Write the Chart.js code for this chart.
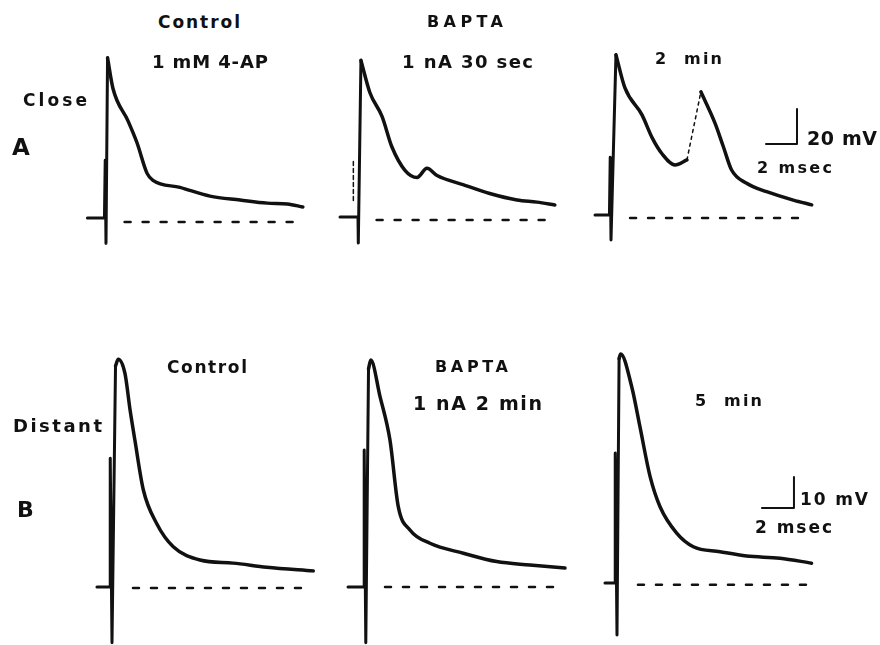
<!DOCTYPE html>
<html>
<head>
<meta charset="utf-8">
<script src="https://cdn.jsdelivr.net/npm/chart.js@4.4.1/dist/chart.umd.min.js"></script>
<style>
  html, body { margin: 0; padding: 0; background: #fff; overflow: hidden; }
  #figure { position: relative; width: 880px; height: 645px; }
  #figure canvas { position: absolute; }
  .lbl { position: absolute; font-family: "DejaVu Sans", sans-serif; font-weight: bold;
         color: #111; white-space: pre; line-height: 1; }
</style>
</head>
<body>
<div id="figure"></div>
<script>
// ---- A: close, control (1 mM 4-AP) ----  time in ms, voltage in mV from rest
const stimA1T = [-1.2, -0.1, -0.05, 0, 0.1];
const stimA1V = [0, 0, 33, -14.5, 91.5];
const decayA1T = [0.1, 0.45, 1.42, 2.0, 2.65, 3.03, 4.77, 6.71, 8.65, 10.4, 11.7, 12.7];
const decayA1V = [91.5, 74, 55.5, 43, 25.5, 21.5, 17.5, 12.5, 10.3, 8.5, 8, 6.3];
const restA1T = [1.2, 12.2];
const restA1V = [-2.3, -2.3];

// ---- A: BAPTA 1 nA 30 sec ----
const stimA2T = [-1.16, 0, 0.02, 0.19];
const stimA2V = [0, 0, -14.8, 89.5];
const ghostA2T = [-0.3, -0.3];
const ghostA2V = [9.5, 33];
const decayA2T = [0.19, 0.77, 1.55, 2.19, 3.03, 3.81, 4.45, 5.1, 6.77, 8.5, 10.26, 11.55, 12.7];
const decayA2V = [89.5, 71, 57.5, 40, 26.7, 22.6, 27.8, 23.7, 18.5, 13.4, 9.7, 8.5, 6.9];
const restA2T = [1.2, 12.4];
const restA2V = [-1.7, -1.7];

// ---- A: 2 min ----
const stimA3T = [-1.03, -0.1, -0.05, 0, 0.32];
const stimA3V = [0, 0, 33, -14.3, 91.5];
const decayA3T = [0.32, 0.9, 2.0, 2.65, 3.29, 4.13, 4.9];
const decayA3V = [91.5, 72.6, 57.2, 44.2, 35, 28.6, 31.5];
const riseA3T = [4.9, 5.8];
const riseA3V = [31.5, 70.4];
const spikeA3T = [5.8, 6.71, 7.25, 7.78, 8.75, 10.04, 11.76, 12.95];
const spikeA3V = [70.4, 52.5, 39, 25.7, 18.1, 13.3, 8.5, 5.8];
const restA3T = [1.23, 12.06];
const restA3V = [-1.7, -1.7];
const barAT = [10, 12, 12];      // 2 msec
const barAV = [40.6, 40.6, 60.6]; // 20 mV

// ---- B: distant, control ----
const stimB1T = [-0.94, -0.11, -0.11, 0, 0.22];
const stimB1V = [0, 0, 41.5, -18, 71.3];
const decayB1T = [0.22, 0.39, 0.81, 1.13, 1.43, 1.96, 2.79, 3.83, 5.5, 7.56, 9.67, 12.58];
const decayB1V = [71.3, 73.5, 68.9, 57.1, 47.4, 31.3, 20.5, 13, 8.7, 7.7, 6.4, 5.2];
const restB1T = [1.31, 11.88];
const restB1V = [-0.3, -0.3];

// ---- B: BAPTA 1 nA 2 min ----
const stimB2T = [-1.06, -0.05, -0.05, 0.05, 0.22];
const stimB2V = [0, 0, 44.2, -18, 70.3];
const decayB2T = [0.22, 0.36, 0.94, 1.56, 2.08, 2.81, 4.06, 6.15, 8.23, 10.31, 12.5];
const decayB2V = [70.3, 73.2, 61.4, 47.4, 25.9, 18.4, 14.1, 10.9, 8.2, 7.1, 6.1];
const restB2T = [1.25, 12.0];
const restB2V = [0, 0];

// ---- B: 5 min ----
const stimB3T = [-0.75, -0.11, -0.11, 0, 0.13];
const stimB3V = [0, 0, 41.9, -16.8, 72.4];
const decayB3T = [0.13, 0.23, 0.92, 1.43, 2.07, 2.69, 3.73, 4.77, 6.44, 8.1, 10.18, 12.16];
const decayB3V = [72.4, 73.9, 63.3, 50.5, 34.3, 24.6, 16.1, 11.7, 10.1, 8.7, 8.0, 6.4];
const restB3T = [1.31, 12.25];
const restB3V = [-0.6, -0.6];
const barBT = [9.06, 11.06, 11.06]; // 2 msec
const barBV = [24.2, 24.2, 34.2];   // 10 mV

// text: [text, left, baseline, font size, ink width]
const labels = [
    ['Control', 158, 28, 17, 82],
    ['1 mM 4-AP', 152, 68, 18, 116],
    ['Close', 23, 106, 17, 64],
    ['A', 12, 155, 23, 0],
    ['BAPTA', 427, 28, 16, 76],
    ['1 nA 30 sec', 402, 68, 18, 131],
    ['2  min', 655, 65, 16, 67],
    ['20 mV', 807, 145, 19, 70],
    ['2 msec', 757, 174, 16, 75],
    ['Control', 167, 373, 17, 80],
    ['Distant', 13, 432, 18, 89],
    ['B', 17, 518, 22, 0],
    ['BAPTA', 435, 373, 16, 73],
    ['1 nA 2 min', 413, 410, 19, 129],
    ['5  min', 695, 407, 16, 67],
    ['10 mV', 800, 505, 17, 68],
    ['2 msec', 755, 533, 17, 77]
];

const ink = '#111';
const rowA = { pxMs: 15.5, pxMv: 1.75, xMin: -2, xMax: 15, yMin: -20, yMax: 100 };
const rowB = { pxMs: 16, pxMv: 3.1, xMin: -2, xMax: 14, yMin: -20, yMax: 80 };
const fig = document.getElementById('figure');

function pts(t, v) {
    return t.map(function (x, i) { return { x: x, y: v[i] }; });
}

function line(t, v, width, smooth, dash) {
    return {
        data: pts(t, v),
        borderColor: ink,
        borderWidth: width,
        borderDash: dash || [],
        tension: 0,
        cubicInterpolationMode: smooth ? 'monotone' : 'default',
        borderCapStyle: 'round',
        borderJoinStyle: 'round',
        pointRadius: 0,
        clip: false
    };
}

function panel(stimX, baseY, row, datasets) {
    const canvas = document.createElement('canvas');
    const w = Math.round((row.xMax - row.xMin) * row.pxMs);
    const h = Math.round((row.yMax - row.yMin) * row.pxMv);
    canvas.width = w;
    canvas.height = h;
    canvas.style.left = Math.round(stimX + row.xMin * row.pxMs) + 'px';
    canvas.style.top = Math.round(baseY - row.yMax * row.pxMv) + 'px';
    fig.appendChild(canvas);
    new Chart(canvas.getContext('2d'), {
        type: 'line',
        data: { datasets: datasets },
        options: {
            responsive: false,
            animation: false,
            layout: { autoPadding: false, padding: 0 },
            plugins: { legend: { display: false }, tooltip: { enabled: false } },
            scales: {
                x: { type: 'linear', display: false, min: row.xMin, max: row.xMin + w / row.pxMs },
                y: { type: 'linear', display: false, min: row.yMax - h / row.pxMv, max: row.yMax }
            }
        }
    });
}

const restDash = [6, 12];

panel(106, 218, rowA, [
    line(stimA1T, stimA1V, 3),
    line(decayA1T, decayA1V, 3.5, true),
    line(restA1T, restA1V, 2.5, false, restDash)
]);
panel(358, 217, rowA, [
    line(stimA2T, stimA2V, 3),
    line(ghostA2T, ghostA2V, 1.5, false, [4, 3]),
    line(decayA2T, decayA2V, 3.5, true),
    line(restA2T, restA2V, 2.5, false, restDash)
]);
panel(611, 215, rowA, [
    line(stimA3T, stimA3V, 3),
    line(decayA3T, decayA3V, 3.5, true),
    line(riseA3T, riseA3V, 1.5, false, [3, 4]),
    line(spikeA3T, spikeA3V, 3.5, true),
    line(restA3T, restA3V, 2.5, false, restDash),
    line(barAT, barAV, 2)
]);
panel(112, 587, rowB, [
    line(stimB1T, stimB1V, 3),
    line(decayB1T, decayB1V, 3.5, true),
    line(restB1T, restB1V, 2.5, false, restDash)
]);
panel(365, 587, rowB, [
    line(stimB2T, stimB2V, 3),
    line(decayB2T, decayB2V, 3.5, true),
    line(restB2T, restB2V, 2.5, false, restDash)
]);
panel(617, 583, rowB, [
    line(stimB3T, stimB3V, 3),
    line(decayB3T, decayB3V, 3.5, true),
    line(restB3T, restB3V, 2.5, false, restDash),
    line(barBT, barBV, 2)
]);

// labels, spaced out to the width they have in the figure
const measure = document.createElement('canvas').getContext('2d');
labels.forEach(function (l) {
    const div = document.createElement('div');
    div.className = 'lbl';
    div.textContent = l[0];
    div.style.fontSize = l[3] + 'px';
    div.style.left = l[1] + 'px';
    div.style.top = (l[2] - 0.846 * l[3]) + 'px';
    if (l[4] && l[0].length > 1) {
        measure.font = 'bold ' + l[3] + 'px "DejaVu Sans", sans-serif';
        const natural = measure.measureText(l[0]).width;
        div.style.letterSpacing = ((l[4] - natural) / (l[0].length - 1)) + 'px';
    }
    fig.appendChild(div);
});
</script>
</body>
</html>
